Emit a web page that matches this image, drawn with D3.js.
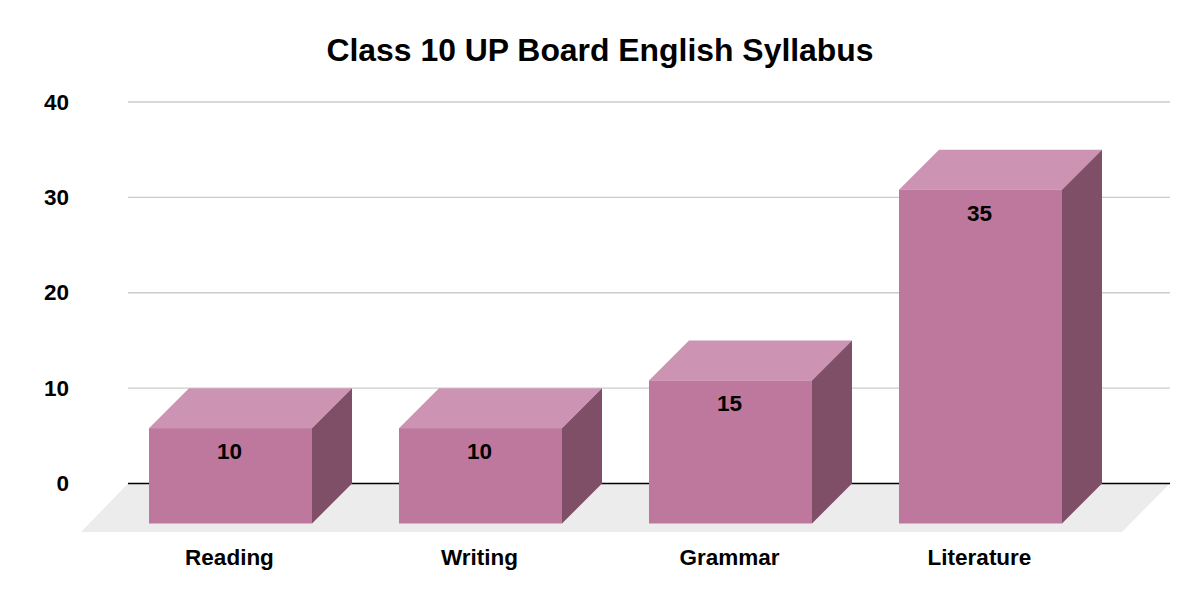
<!DOCTYPE html>
<html><head><meta charset="utf-8">
<script src="https://cdn.jsdelivr.net/npm/d3@7/dist/d3.min.js"></script>
<style>html,body{margin:0;padding:0;background:#fff}svg{display:block}text{font-family:"Liberation Sans",Arial,sans-serif;font-weight:700;fill:#000}</style>
</head><body><svg id="c" width="1200" height="599"></svg>
<script>
const titleText = "Class 10 UP Board English Syllabus";
const categories = ["Reading","Writing","Grammar","Literature"];
const values = [10,10,15,35];
const yTicks = [0,10,20,30,40];

const svg = d3.select("#c");
const d = 40; // depth offset
const y = d3.scaleLinear().domain([0,40]).range([483.5,102]);
const x = d3.scaleBand().domain(categories).range([105.5,1105.5]).paddingInner(0.348).paddingOuter(0.174);
const line = d3.line();

svg.append("text").attr("x",600).attr("y",61).attr("text-anchor","middle").attr("font-size",31.9).text(titleText);

svg.append("path").attr("fill","#ececec")
  .attr("d",line([[128,y(0)],[1170,y(0)],[1122,532],[81,532]])+"Z");

const yAxis = d3.axisLeft(y).tickValues(yTicks).tickSize(0).tickPadding(0);
const gy = svg.append("g").attr("transform","translate(69,0)").call(yAxis);
gy.select(".domain").remove();
gy.selectAll("text").attr("font-size",22.5).attr("dy","0.32em").style("font-family",'"Liberation Sans",Arial,sans-serif').style("font-weight",700).attr("fill","#000");

svg.append("g").selectAll("line").data(yTicks).join("line")
  .attr("x1",128).attr("x2",1170)
  .attr("y1",v=>y(v)).attr("y2",v=>y(v))
  .attr("stroke",v=>v===0?"#000":"#cccccc").attr("stroke-width",v=>v===0?1.5:1.3);

const bars = svg.append("g").selectAll("g").data(categories).join("g");
const fx = c=>x(c), bw = x.bandwidth();
const vOf = c=>values[categories.indexOf(c)];
// top
bars.append("path").attr("fill","#cd93b3").attr("d",c=>{
  const t=y(vOf(c));
  return line([[fx(c),t+d],[fx(c)+d,t],[fx(c)+bw+d,t],[fx(c)+bw,t+d]])+"Z";});
// side
bars.append("path").attr("fill","#7f4f68").attr("d",c=>{
  const t=y(vOf(c));
  return line([[fx(c)+bw,t+d],[fx(c)+bw+d,t],[fx(c)+bw+d,y(0)],[fx(c)+bw,y(0)+d]])+"Z";});
// front
bars.append("rect").attr("fill","#bf789d")
  .attr("x",c=>fx(c)).attr("width",bw)
  .attr("y",c=>y(vOf(c))+d).attr("height",c=>y(0)-y(vOf(c)));
// value labels
bars.append("text").attr("text-anchor","middle").attr("font-size",22.5)
  .attr("x",c=>fx(c)+bw/2-1).attr("y",c=>y(vOf(c))+d+31)
  .text(c=>vOf(c));
// category labels
svg.append("g").selectAll("text").data(categories).join("text")
  .attr("text-anchor","middle").attr("font-size",22.5)
  .attr("x",c=>fx(c)+bw/2-1).attr("y",565).text(c=>c);
</script></body></html>
